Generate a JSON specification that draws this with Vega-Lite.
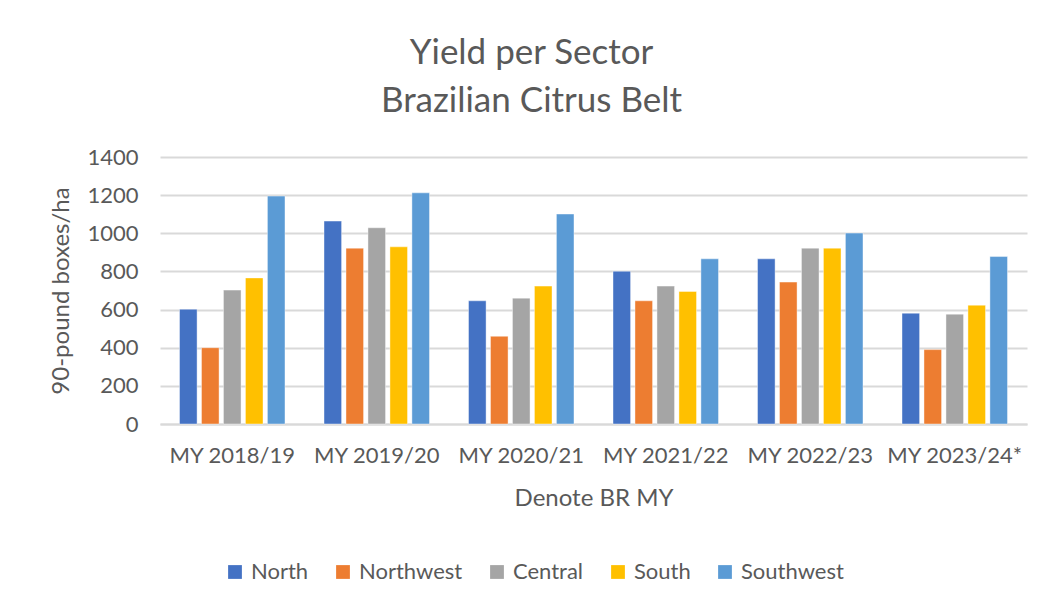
{
  "$schema": "https://vega.github.io/schema/vega-lite/v6.json",
  "autosize": "none",
  "width": 867,
  "height": 267,
  "padding": {"left": 160, "top": 157, "right": 17, "bottom": 188},
  "background": "white",
  "title": {
    "text": ["Yield per Sector", "Brazilian Citrus Belt"],
    "fontSize": 35,
    "lineHeight": 48,
    "font": "Lato",
    "fontWeight": "normal",
    "color": "#595959",
    "anchor": "middle",
    "frame": "group",
    "dx": -62,
    "offset": 27
  },
  "data": {
    "values": [
      {"year": "MY 2018/19", "sector": "North", "yield": 602},
      {"year": "MY 2018/19", "sector": "Northwest", "yield": 400},
      {"year": "MY 2018/19", "sector": "Central", "yield": 702},
      {"year": "MY 2018/19", "sector": "South", "yield": 766},
      {"year": "MY 2018/19", "sector": "Southwest", "yield": 1195},
      {"year": "MY 2019/20", "sector": "North", "yield": 1064},
      {"year": "MY 2019/20", "sector": "Northwest", "yield": 922},
      {"year": "MY 2019/20", "sector": "Central", "yield": 1029},
      {"year": "MY 2019/20", "sector": "South", "yield": 929},
      {"year": "MY 2019/20", "sector": "Southwest", "yield": 1212},
      {"year": "MY 2020/21", "sector": "North", "yield": 646},
      {"year": "MY 2020/21", "sector": "Northwest", "yield": 460},
      {"year": "MY 2020/21", "sector": "Central", "yield": 660},
      {"year": "MY 2020/21", "sector": "South", "yield": 723},
      {"year": "MY 2020/21", "sector": "Southwest", "yield": 1101},
      {"year": "MY 2021/22", "sector": "North", "yield": 801},
      {"year": "MY 2021/22", "sector": "Northwest", "yield": 646},
      {"year": "MY 2021/22", "sector": "Central", "yield": 723},
      {"year": "MY 2021/22", "sector": "South", "yield": 695},
      {"year": "MY 2021/22", "sector": "Southwest", "yield": 866},
      {"year": "MY 2022/23", "sector": "North", "yield": 866},
      {"year": "MY 2022/23", "sector": "Northwest", "yield": 744},
      {"year": "MY 2022/23", "sector": "Central", "yield": 922},
      {"year": "MY 2022/23", "sector": "South", "yield": 922},
      {"year": "MY 2022/23", "sector": "Southwest", "yield": 1001},
      {"year": "MY 2023/24*", "sector": "North", "yield": 581},
      {"year": "MY 2023/24*", "sector": "Northwest", "yield": 390},
      {"year": "MY 2023/24*", "sector": "Central", "yield": 576},
      {"year": "MY 2023/24*", "sector": "South", "yield": 623},
      {"year": "MY 2023/24*", "sector": "Southwest", "yield": 878}
    ]
  },
  "mark": {"type": "bar", "stroke": "white", "strokeWidth": 0.7, "strokeOpacity": 0.6},
  "encoding": {
    "x": {
      "field": "year",
      "type": "nominal",
      "sort": null,
      "scale": {"paddingInner": 0.27, "paddingOuter": 0.135},
      "axis": {
        "title": "Denote BR MY",
        "labelAngle": 0,
        "ticks": false,
        "labelPadding": 21,
        "titlePadding": 20,
        "domainColor": "#d9d9d9",
        "domainWidth": 2
      }
    },
    "xOffset": {
      "field": "sector",
      "type": "nominal",
      "sort": ["North", "Northwest", "Central", "South", "Southwest"],
      "scale": {"paddingInner": 0.2}
    },
    "y": {
      "field": "yield",
      "type": "quantitative",
      "scale": {"domain": [0, 1400], "nice": false},
      "axis": {
        "title": "90-pound boxes/ha",
        "values": [0, 200, 400, 600, 800, 1000, 1200, 1400],
        "format": "d",
        "domain": false,
        "ticks": false,
        "labelPadding": 22,
        "titlePadding": 13,
        "gridColor": "#d9d9d9",
        "gridWidth": 2
      }
    },
    "color": {
      "field": "sector",
      "type": "nominal",
      "sort": ["North", "Northwest", "Central", "South", "Southwest"],
      "scale": {
        "domain": ["North", "Northwest", "Central", "South", "Southwest"],
        "range": ["#4472C4", "#ED7D31", "#A5A5A5", "#FFC000", "#5B9BD5"]
      },
      "legend": {
        "title": null,
        "orient": "none",
        "legendX": 64,
        "legendY": 404,
        "direction": "horizontal",
        "symbolType": "square",
        "symbolSize": 190,
        "symbolStrokeWidth": 0,
        "labelFontSize": 22,
        "labelOffset": 5,
        "columnPadding": 23
      }
    }
  },
  "config": {
    "font": "Lato",
    "view": {"stroke": null},
    "axis": {
      "labelFont": "Lato",
      "labelFontSize": 22,
      "labelColor": "#595959",
      "titleFont": "Lato",
      "titleFontSize": 24,
      "titleFontWeight": "normal",
      "titleColor": "#595959"
    },
    "legend": {"labelFont": "Lato", "labelColor": "#595959"}
  }
}
